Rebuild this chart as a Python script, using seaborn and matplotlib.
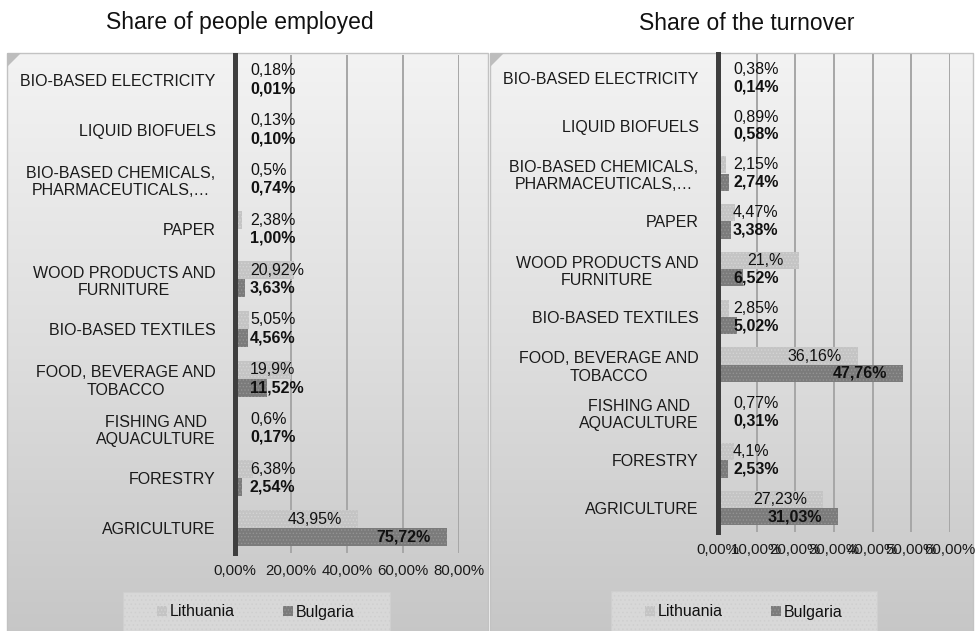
import numpy as np
import pandas as pd
import matplotlib
matplotlib.use("Agg")
import matplotlib.pyplot as plt
import seaborn as sns
from matplotlib.patches import Rectangle, Polygon, Patch
from matplotlib.colors import LinearSegmentedColormap
from matplotlib.ticker import FuncFormatter, MultipleLocator

# ---- data (percent) ----
sectors = [
    "BIO-BASED ELECTRICITY",
    "LIQUID BIOFUELS",
    "BIO-BASED CHEMICALS,\nPHARMACEUTICALS,…",
    "PAPER",
    "WOOD PRODUCTS AND\nFURNITURE",
    "BIO-BASED TEXTILES",
    "FOOD, BEVERAGE AND\nTOBACCO",
    "FISHING AND\nAQUACULTURE",
    "FORESTRY",
    "AGRICULTURE",
]
countries = ["Lithuania", "Bulgaria"]
employed_lt = [0.18, 0.13, 0.5, 2.38, 20.92, 5.05, 19.9, 0.6, 6.38, 43.95]
employed_bg = [0.01, 0.10, 0.74, 1.00, 3.63, 4.56, 11.52, 0.17, 2.54, 75.72]
turnover_lt = [0.38, 0.89, 2.15, 4.47, 21.0, 2.85, 36.16, 0.77, 4.1, 27.23]
turnover_bg = [0.14, 0.58, 2.74, 3.38, 6.52, 5.02, 47.76, 0.31, 2.53, 31.03]
titles = ["Share of people employed", "Share of the turnover"]
x_max = [80, 60]
x_step = [20, 10]

sns.set_style("white")
plt.rcParams["font.family"] = ["Liberation Sans", "DejaVu Sans"]
plt.rcParams["hatch.linewidth"] = 0.6

W, H = 976, 631
fig = plt.figure(figsize=(W / 100, H / 100), dpi=100)
fig.patch.set_facecolor("white")

# background layer in pixel coordinates
bg = fig.add_axes([0, 0, 1, 1], zorder=0)
bg.set_xlim(0, W)
bg.set_ylim(H, 0)
bg.axis("off")

panel_cmap = LinearSegmentedColormap.from_list("panel", ["#f3f3f3", "#dedede", "#c6c6c6"])
grad = np.linspace(0, 1, 256)[:, None] * np.ones((1, 8))
panels = [(7, 53, 488, 640), (490, 53, 973, 640)]
for (x0, y0, x1, y1) in panels:
    bg.imshow(grad, extent=(x0, x1, y1, y0), origin="upper", cmap=panel_cmap,
              aspect="auto", interpolation="bilinear", zorder=0)
    bg.add_patch(Rectangle((x0, y0), x1 - x0, y1 - y0, fill=False,
                           edgecolor="#c2c2c2", lw=1.0, zorder=1))
    bg.add_patch(Polygon([(x0, y0), (x0 + 14, y0), (x0, y0 + 14)],
                         closed=True, facecolor="#bdbdbd", edgecolor="none", zorder=2))
bg.set_xlim(0, W)
bg.set_ylim(H, 0)

legend_boxes = [(123, 592, 390, 640), (611, 591, 877, 640)]
for (x0, y0, x1, y1) in legend_boxes:
    bg.add_patch(Rectangle((x0, y0), x1 - x0, y1 - y0, facecolor="#d8d8d8",
                           edgecolor="#cfcfcf", lw=0.8, hatch="....", zorder=3))

title_x = [240, 747]
for t, tx in zip(titles, title_x):
    fig.text(tx / W, 1 - 23 / H, t, ha="center", va="center", fontsize=16.5, color="#111111")

plot_boxes = [(235, 55, 459, 553), (718, 54, 950, 532)]
palette = {"Lithuania": "#c4c4c4", "Bulgaria": "#7b7b7b"}
hatch_colors = {"Lithuania": "#d4d4d4", "Bulgaria": "#939393"}


def fmt_lt(v):
    s = f"{v:.2f}".rstrip("0")
    return s.replace(".", ",") + "%"


def fmt_bg(v):
    return f"{v:.2f}".replace(".", ",") + "%"


datasets = [(employed_lt, employed_bg), (turnover_lt, turnover_bg)]
axes = []
for i, ((lt, bgv), (x0, y0, x1, y1)) in enumerate(zip(datasets, plot_boxes)):
    ax = fig.add_axes([x0 / W, 1 - y1 / H, (x1 - x0) / W, (y1 - y0) / H], zorder=2)
    ax.set_facecolor("none")
    df = pd.DataFrame({
        "sector": sectors * 2,
        "country": [countries[0]] * len(sectors) + [countries[1]] * len(sectors),
        "value": list(lt) + list(bgv),
    })
    sns.barplot(data=df, x="value", y="sector", hue="country", order=sectors,
                hue_order=countries, orient="h", width=0.72, palette=palette,
                saturation=1, legend=False, ax=ax, linewidth=0)
    for cont, c in zip(ax.containers, countries):
        for bar in cont:
            bar.set_hatch(".....")
            bar.set_edgecolor(hatch_colors[c])
            bar.set_linewidth(0.0)
    ax.set_xlim(0, x_max[i])
    ax.set_ylim(len(sectors) - 0.5, -0.5)
    ax.set_xlabel("")
    ax.set_ylabel("")
    ax.xaxis.set_major_locator(MultipleLocator(x_step[i]))
    ax.xaxis.set_major_formatter(FuncFormatter(lambda v, p: f"{v:.2f}".replace(".", ",") + "%"))
    ax.grid(axis="x", color="#a6a6a6", lw=1.4)
    ax.grid(axis="y", visible=False)
    ax.set_axisbelow(True)
    for s in ["top", "right", "bottom"]:
        ax.spines[s].set_visible(False)
    ax.spines["left"].set_linewidth(3.6)
    ax.spines["left"].set_color("#3e3e3e")
    ax.spines["left"].set_zorder(5)
    ax.tick_params(axis="y", length=0, pad=14, labelsize=11.5, labelcolor="#1a1a1a")
    ax.tick_params(axis="x", length=0, pad=8, labelsize=10.8, labelcolor="#1a1a1a")
    for lab in ax.get_yticklabels():
        lab.set_multialignment("center")
    axes.append(ax)

fig.canvas.draw()
renderer = fig.canvas.get_renderer()

# value labels: inside the bar end when they fit, otherwise next to the axis
for ax, (lt, bgv) in zip(axes, datasets):
    for cont, vals, c in zip(ax.containers, (lt, bgv), countries):
        weight = "bold" if c == "Bulgaria" else "normal"
        fmt = fmt_bg if c == "Bulgaria" else fmt_lt
        for bar, v in zip(cont, vals):
            yc = bar.get_y() + bar.get_height() / 2
            t = ax.annotate(fmt(v), xy=(0, yc), xytext=(15, 0), textcoords="offset pixels",
                            ha="left", va="center", fontsize=11.5, fontweight=weight,
                            color="#111111", zorder=6)
            w = t.get_window_extent(renderer).width
            bar_px = ax.transData.transform((v, yc))[0] - ax.transData.transform((0, yc))[0]
            if bar_px - 16 - w > 15:
                t.xy = (v, yc)
                t.xyann = (-16, 0)
                t.set_ha("right")

legend_centers = [(256, 612), (744, 612)]
handles = [Patch(facecolor=palette[c], edgecolor=hatch_colors[c], hatch=".....", lw=0)
           for c in countries]
for (cx, cy) in legend_centers:
    fig.legend(handles, countries, loc="center", bbox_to_anchor=(cx / W, 1 - cy / H),
               ncol=2, frameon=False, fontsize=11.5, handlelength=0.6, handleheight=0.6,
               handletextpad=0.2, columnspacing=3.0, labelcolor="#111111")

fig.savefig("out.png", dpi=100)
